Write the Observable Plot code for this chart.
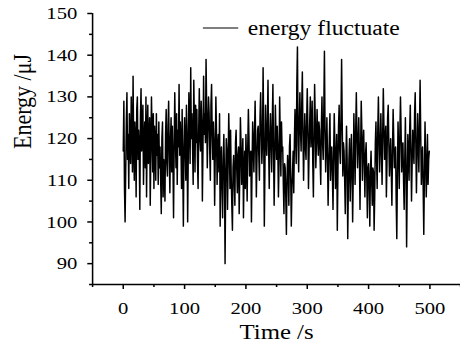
<!DOCTYPE html>
<html>
<head>
<meta charset="utf-8">
<script src="https://cdn.jsdelivr.net/npm/d3@7"></script>
<script src="https://cdn.jsdelivr.net/npm/@observablehq/plot@0.6"></script>
<style>
  html, body { margin: 0; padding: 0; background: #fff; }
  #chart svg { display: block; }
</style>
</head>
<body>
<div id="chart"></div>
<script>
// Energy readings (µJ), one per second
const energy = [
  117, 129, 108, 100, 112, 124, 131, 115, 121, 108, 126, 119, 114, 130, 122, 112, 135, 118, 110, 124,
  120, 106, 127, 130, 115, 122, 118, 103, 125, 132, 117, 121, 128, 109, 119, 124, 113, 130, 106, 121,
  128, 114, 119, 125, 104, 117, 130, 121, 112, 126, 108, 123, 119, 110, 126, 116, 121, 109, 124, 113,
  118, 110, 102, 120, 124, 106, 115, 112, 105, 121, 127, 114, 111, 123, 129, 116, 107, 120, 125, 112,
  123, 115, 101, 118, 131, 120, 113, 126, 109, 122, 118, 133, 116, 124, 119, 108, 127, 114, 99, 117,
  125, 118, 110, 128, 121, 100, 116, 131, 123, 114, 137, 120, 126, 118, 109, 134, 124, 112, 128, 119,
  127, 115, 108, 122, 132, 120, 117, 129, 124, 105, 118, 135, 121, 126, 119, 139, 127, 113, 122, 130,
  126, 117, 110, 128, 133, 121, 115, 124, 119, 104, 116, 130, 122, 109, 118, 121, 112, 126, 99, 114,
  118, 108, 101, 115, 121, 112, 90, 109, 120, 117, 103, 114, 126, 118, 108, 122, 111, 104, 98, 113,
  116, 110, 104, 119, 122, 113, 107, 116, 118, 102, 111, 125, 119, 109, 114, 120, 101, 112, 117, 108,
  121, 114, 105, 118, 127, 120, 111, 116, 117, 100, 113, 124, 119, 112, 121, 129, 118, 106, 115, 122,
  123, 116, 110, 125, 131, 122, 114, 119, 137, 121, 99, 113, 128, 120, 116, 124, 134, 118, 108, 120,
  126, 119, 112, 124, 133, 117, 104, 115, 128, 121, 115, 123, 118, 106, 114, 130, 120, 111, 124, 117,
  118, 109, 102, 114, 113, 106, 97, 110, 116, 112, 104, 118, 121, 111, 99, 108, 112, 117, 107, 119,
  127, 120, 114, 133, 142, 119, 112, 124, 131, 122, 117, 128, 136, 121, 110, 119, 126, 118, 115, 124,
  132, 123, 108, 117, 124, 130, 118, 122, 129, 114, 106, 120, 133, 125, 113, 119, 127, 121, 116, 124,
  122, 115, 109, 123, 130, 119, 115, 127, 141, 122, 112, 118, 125, 116, 104, 113, 120, 126, 110, 117,
  118, 111, 103, 116, 126, 119, 108, 114, 121, 98, 112, 123, 128, 117, 114, 125, 139, 124, 111, 119,
  117, 110, 102, 114, 123, 115, 96, 108, 115, 120, 105, 112, 121, 113, 100, 111, 126, 118, 109, 122,
  131, 121, 113, 119, 125, 116, 103, 117, 129, 122, 110, 118, 122, 114, 106, 116, 119, 111, 101, 113,
  114, 108, 99, 112, 117, 110, 104, 113, 112, 98, 106, 119, 124, 115, 108, 122, 130, 120, 112, 118,
  126, 117, 109, 121, 132, 123, 115, 120, 123, 106, 114, 125, 128, 119, 111, 116, 120, 112, 104, 117,
  127, 120, 113, 116, 118, 105, 96, 112, 124, 117, 108, 121, 130, 122, 112, 118, 119, 110, 103, 115,
  125, 113, 94, 109, 121, 116, 110, 122, 128, 117, 105, 114, 122, 118, 114, 126, 131, 119, 107, 116,
  126, 119, 112, 123, 134, 121, 109, 115, 118, 108, 97, 111, 124, 116, 106, 113, 121, 109, 115, 117
];
const sampleStep = 1; // seconds between readings
const times = energy.map((_, i) => i * sampleStep);

const xTicks = [0, 100, 200, 300, 400, 500];
const xMinorTicks = [-50, 50, 150, 250, 350, 450, 550];
const yTicks = [90, 100, 110, 120, 130, 140, 150];
const yMinorTicks = [85, 95, 105, 115, 125, 135, 145];

const xLabel = "Time /s";
const yLabel = "Energy /\u03BCJ";
const seriesName = "energy fluctuate";

const data = times.map((t, i) => ({t, e: energy[i]}));

const W = 390, H = 349;       // drawing space, stretched horizontally to 460
const FONT = "Liberation Serif, Times New Roman, serif";

const plot = Plot.plot({
  width: W,
  height: H,
  marginLeft: 78,
  marginRight: 0,
  marginTop: 13,
  marginBottom: 65,
  style: {fontFamily: FONT, fontSize: "17px", color: "#000", background: "#fff"},
  x: {domain: [-50, 550], label: null},
  y: {domain: [85, 150], label: null},
  marks: [
    Plot.line(data, {x: "t", y: "e", stroke: "#000", strokeWidth: 1.25}),
    Plot.ruleX([-50], {stroke: "#000", strokeWidth: 1.3}),
    Plot.ruleY([85], {stroke: "#000", strokeWidth: 1.5}),
    Plot.axisX({ticks: xTicks, tickSize: 5, tickPadding: 12, strokeWidth: 1.3, label: null, fontSize: 17.5}),
    Plot.axisX({ticks: xMinorTicks, tickSize: 3, tickFormat: () => "", strokeWidth: 1.3, label: null}),
    Plot.axisY({ticks: yTicks, tickSize: 4, tickPadding: 9, strokeWidth: 1.5, label: null, fontSize: 17.5}),
    Plot.axisY({ticks: yMinorTicks, tickSize: 2.5, tickFormat: () => "", strokeWidth: 1.5, label: null}),
    Plot.text([xLabel], {frameAnchor: "bottom", dy: 54, fontSize: 21, fill: "#000"}),
    Plot.text([yLabel], {frameAnchor: "left", dx: -59, rotate: -90, fontSize: 22, fill: "#000"})
  ]
});

// Legend inside the frame, top right
const svg = d3.select(plot);
const leg = svg.append("g");
leg.append("line")
  .attr("x1", 172).attr("x2", 202).attr("y1", 28).attr("y2", 28)
  .attr("stroke", "#000").attr("stroke-width", 1);
leg.append("text")
  .attr("x", 210).attr("y", 28).attr("dy", "0.35em")
  .attr("text-anchor", "start")
  .attr("font-family", FONT).attr("font-size", 20).attr("fill", "#000")
  .text(seriesName);

// stretch horizontally to the 460 px window (the original figure is widened)
plot.setAttribute("viewBox", `0 0 ${W} ${H}`);
plot.setAttribute("width", 460);
plot.setAttribute("height", 349);
plot.setAttribute("preserveAspectRatio", "none");
plot.style.width = "460px";
plot.style.height = "349px";
plot.style.maxWidth = "none";

document.getElementById("chart").appendChild(plot);
</script>
</body>
</html>
